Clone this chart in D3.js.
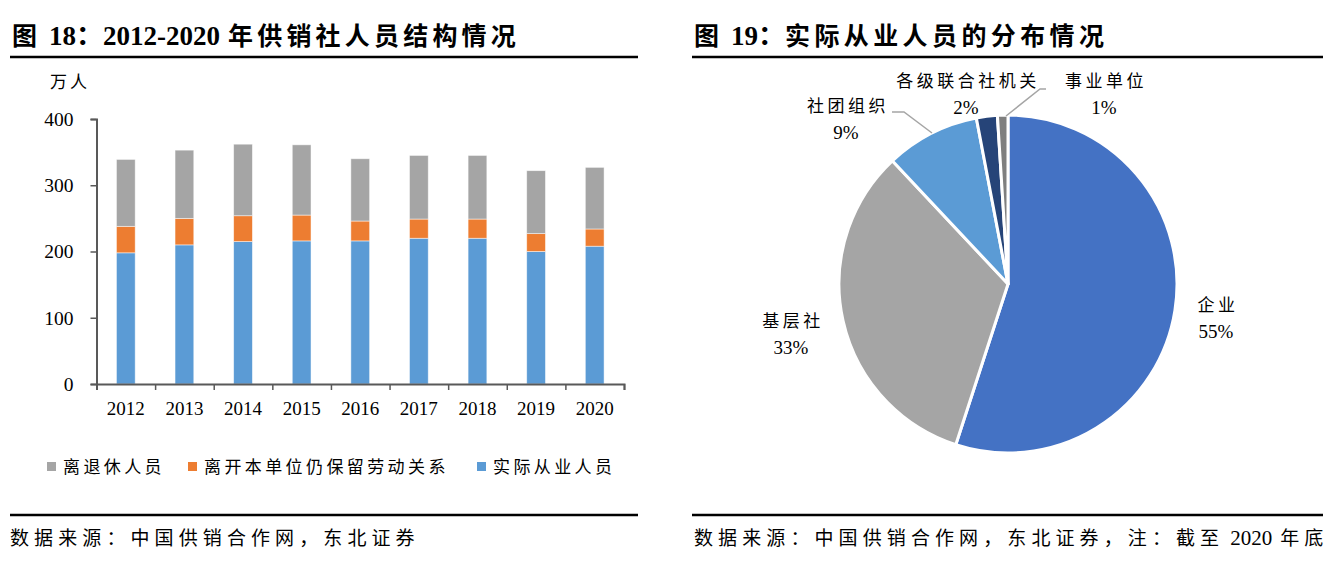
<!DOCTYPE html>
<html>
<head>
<meta charset="utf-8">
<script src="https://cdn.jsdelivr.net/npm/d3@7"></script>
<style>
  body { margin: 0; background: #fff; }
  svg text { font-family: "Liberation Serif", "Noto Sans CJK SC", serif; fill: #000; }
</style>
</head>
<body>
<div class="chart"></div>
<script>
// data: left chart (万人)
var years = ["2012", "2013", "2014", "2015", "2016", "2017", "2018", "2019", "2020"];
var actualStaff = [198, 210, 215, 216, 216, 220, 220, 200, 208];      // 实际从业人员
var leftKeepLabor = [40, 40, 39, 39, 30, 29, 29, 27, 26];             // 离开本单位仍保留劳动关系
var retired = [101, 103, 108, 106, 94, 96, 96, 95, 93];                // 离退休人员
var seriesNames = ["离退休人员", "离开本单位仍保留劳动关系", "实际从业人员"];
var yTicks = [0, 100, 200, 300, 400];

// data: right chart (%)
var pieNames = ["企业", "基层社", "社团组织", "各级联合社机关", "事业单位"];
var pieValues = [55, 33, 9, 2, 1];

var svg = d3.select(".chart")
  .append("svg")
  .attr("width", 1333)
  .attr("height", 582);

// titles + rules  (parts: [text, letter-spacing, dx, font-size])
function header(x0, x1, parts) {
  var t = svg.append("text")
    .attr("x", x0 + 2)
    .attr("y", 45)
    .attr("font-size", 25)
    .attr("font-weight", "bold");
  parts.forEach(function (p) {
    t.append("tspan")
      .attr("letter-spacing", p[1])
      .attr("dx", p[2] || 0)
      .attr("font-size", p[3] || 25)
      .text(p[0]);
  });
  svg.append("line")
    .attr("x1", x0).attr("x2", x1)
    .attr("y1", 57).attr("y2", 57)
    .attr("stroke", "#000").attr("stroke-width", 2.5);
  svg.append("line")
    .attr("x1", x0).attr("x2", x1)
    .attr("y1", 515).attr("y2", 515)
    .attr("stroke", "#000").attr("stroke-width", 2.5);
}
header(10, 638, [["图", 0], ["18：2012-2020", 0, 12, 27], ["年供销社人员结构情况", 4.2, 8]]);
header(692, 1323, [["图", 0], ["19：", 0, 12, 27], ["实际从业人员的分布情况", 4.4]]);

function source(x, parts) {
  var t = svg.append("text")
    .attr("x", x).attr("y", 545)
    .attr("font-size", 19);
  parts.forEach(function (p) {
    t.append("tspan")
      .attr("letter-spacing", p[1])
      .attr("dx", p[2] || 0)
      .attr("font-size", p[3] || 19)
      .text(p[0]);
  });
}
source(10, [["数据来源：中国供销合作网，东北证券", 5.1]]);
source(694, [["数据来源：中国供销合作网，东北证券，注：截至", 5.1], ["2020", 0, 6, 21], ["年底", 5.1, 8]]);

// ---------- stacked bar chart ----------
var x0 = 96.5, x1 = 624;
var xScale = d3.scaleBand()
  .domain(years)
  .range([x0, x1])
  .paddingInner(0.68)
  .paddingOuter(0.34);
var yScale = d3.scaleLinear()
  .domain([0, 400])
  .range([384, 119]);

var rows = years.map(function (y, i) {
  return { year: y, a: actualStaff[i], b: leftKeepLabor[i], c: retired[i] };
});
var stack = d3.stack().keys(["a", "b", "c"])(rows);
var colors = { a: "#5B9BD5", b: "#ED7D31", c: "#A5A5A5" };

var barG = svg.append("g");
stack.forEach(function (layer) {
  barG.selectAll(null)
    .data(layer)
    .enter()
    .append("rect")
    .attr("x", d => xScale(d.data.year))
    .attr("width", xScale.bandwidth())
    .attr("y", d => yScale(d[1]))
    .attr("height", d => yScale(d[0]) - yScale(d[1]))
    .attr("fill", colors[layer.key])
    .attr("stroke", "#fff")
    .attr("stroke-opacity", 0.6)
    .attr("stroke-width", 0.8);
});

// y axis
var yAxis = svg.append("g")
  .attr("transform", "translate(" + x0 + ",0)")
  .call(d3.axisLeft(yScale).tickValues(yTicks).tickSize(6).tickPadding(17));
yAxis.select(".domain").attr("stroke", "#595959").attr("stroke-width", 2);
yAxis.selectAll(".tick line").attr("stroke", "#595959").attr("stroke-width", 1.5);
yAxis.selectAll("text").attr("font-size", 19.5).attr("font-family", "Liberation Serif").attr("fill", "#000");

// x axis: labels
var xAxis = svg.append("g")
  .attr("transform", "translate(0,384)")
  .call(d3.axisBottom(xScale).tickSize(0).tickPadding(18));
xAxis.select(".domain").remove();
xAxis.selectAll("text").attr("font-size", 19).attr("font-family", "Liberation Serif").attr("fill", "#000");

// x axis: boundary ticks
var bound = d3.scaleLinear().domain([0, years.length]).range([x0, x1]);
var xTicks = svg.append("g")
  .attr("transform", "translate(0,384)")
  .call(d3.axisBottom(bound).ticks(years.length).tickSize(6).tickFormat(""));
xTicks.select(".domain").attr("stroke", "#595959").attr("stroke-width", 2);
xTicks.selectAll(".tick line").attr("stroke", "#595959").attr("stroke-width", 1.5);

svg.append("text")
  .attr("x", 50).attr("y", 88)
  .attr("font-size", 17).attr("letter-spacing", 3)
  .text("万人");

// legend
var legendX = [47, 188, 477];
var legendColors = ["#A5A5A5", "#ED7D31", "#5B9BD5"];
seriesNames.forEach(function (name, i) {
  svg.append("rect")
    .attr("x", legendX[i]).attr("y", 462)
    .attr("width", 9).attr("height", 9)
    .attr("fill", legendColors[i]);
  svg.append("text")
    .attr("x", legendX[i] + 16).attr("y", 473)
    .attr("font-size", 17).attr("letter-spacing", 3.4)
    .text(name);
});

// ---------- pie chart ----------
var cx = 1008, cy = 284, radius = 169;
var pieColors = ["#4472C4", "#A5A5A5", "#5B9BD5", "#264478", "#7F7F7F"];
var pie = d3.pie().sort(null).value(d => d)(pieValues);
var arc = d3.arc().innerRadius(0).outerRadius(radius);

var pieG = svg.append("g").attr("transform", "translate(" + cx + "," + cy + ")");
pieG.selectAll("path")
  .data(pie)
  .enter()
  .append("path")
  .attr("d", arc)
  .attr("fill", (d, i) => pieColors[i])
  .attr("stroke", "#fff")
  .attr("stroke-width", 3)
  .attr("stroke-linejoin", "round");

// leader lines
var leaders = [
  [[892, 112], [904, 112], [932, 133]],
  [[1046, 89], [1040, 89], [1006, 116]]
];
leaders.forEach(function (pts) {
  svg.append("path")
    .attr("d", d3.line()(pts))
    .attr("fill", "none")
    .attr("stroke", "#A5A5A5")
    .attr("stroke-width", 1.5);
});

// pie labels
var pieLabelPos = [[1216, 305], [791, 321], [846, 106], [966, 81], [1104, 81]];
pie.forEach(function (d, i) {
  var p = pieLabelPos[i];
  svg.append("text")
    .attr("x", p[0] + 2).attr("y", p[1] + 6)
    .attr("text-anchor", "middle")
    .attr("font-size", 17).attr("letter-spacing", 3.5)
    .text(pieNames[i]);
  svg.append("text")
    .attr("x", p[0]).attr("y", p[1] + 33)
    .attr("text-anchor", "middle")
    .attr("font-size", 19)
    .text(pieValues[i] + "%");
});
</script>
</body>
</html>
